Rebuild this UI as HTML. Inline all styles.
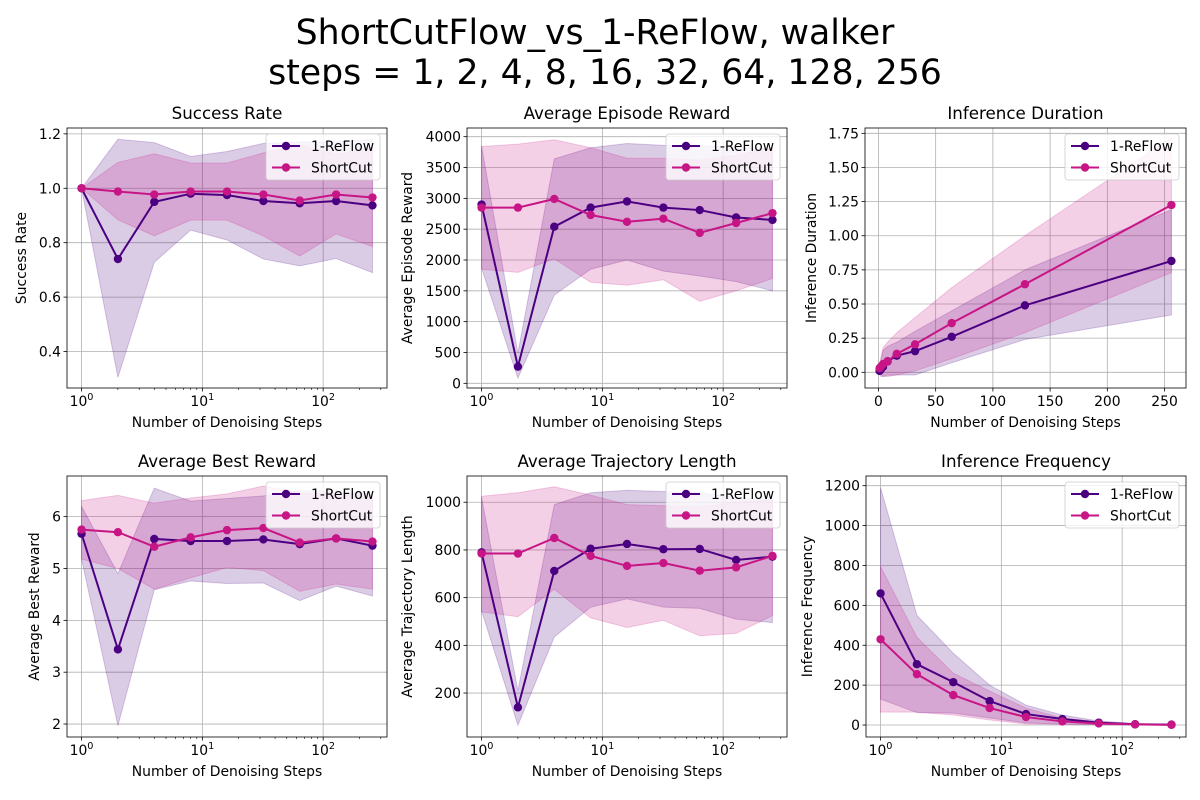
<!DOCTYPE html>
<html><head><meta charset="utf-8"><style>
body{margin:0;background:#fff;}
svg{display:block;font-family:"DejaVu Sans","Liberation Sans",sans-serif;}
</style></head><body>
<svg id="fig" width="1200" height="800" viewBox="0 0 1200 800" xmlns="http://www.w3.org/2000/svg">
<rect width="1200" height="800" fill="#fff"/>
<text x="595" y="44" font-size="34.7" text-anchor="middle" fill="#000">ShortCutFlow_vs_1-ReFlow, walker</text>
<text x="605" y="84" font-size="34.7" text-anchor="middle" fill="#000">steps = 1, 2, 4, 8, 16, 32, 64, 128, 256</text>
</svg>
<script>
const steps = [1,2,4,8,16,32,64,128,256];
const seriesNames = ["1-ReFlow","ShortCut"];

const srReMean = [1.0,0.74,0.95,0.98,0.975,0.953,0.945,0.953,0.937];
const srReHi = [1.0,1.18,1.168,1.117,1.135,1.165,1.17,1.17,1.18];
const srReLo = [1.0,0.305,0.728,0.846,0.81,0.74,0.715,0.742,0.69];
const srScMean = [1.0,0.988,0.977,0.988,0.988,0.977,0.955,0.977,0.966];
const srScHi = [1.0,1.095,1.127,1.093,1.093,1.13,1.16,1.125,1.15];
const srScLo = [1.0,0.884,0.825,0.883,0.883,0.825,0.751,0.832,0.786];

const erReMean = [2900,270,2540,2850,2950,2850,2810,2690,2650];
const erReHi = [3850,490,3640,3820,3890,3860,3850,3830,3800];
const erReLo = [1870,85,1430,1850,2000,1820,1740,1650,1500];
const erScMean = [2850,2850,2990,2730,2620,2670,2440,2600,2760];
const erScHi = [3840,3880,3950,3820,3650,3650,3620,3700,3820];
const erScLo = [1850,1800,2020,1640,1590,1680,1330,1500,1700];

const idReMean = [0.01,0.02,0.04,0.08,0.122,0.155,0.26,0.49,0.815];
const idReHi = [0.03,0.08,0.16,0.19,0.22,0.3,0.45,0.75,1.19];
const idReLo = [-0.01,-0.03,-0.03,-0.03,-0.02,-0.02,0.07,0.24,0.42];
const idScMean = [0.03,0.04,0.06,0.08,0.135,0.205,0.36,0.645,1.225];
const idScHi = [0.05,0.1,0.18,0.22,0.29,0.4,0.62,1.0,1.72];
const idScLo = [0.01,-0.01,-0.03,-0.02,-0.02,0.01,0.1,0.29,0.73];

const brReMean = [5.67,3.44,5.57,5.53,5.53,5.56,5.47,5.58,5.44];
const brReHi = [6.2,4.9,6.55,6.3,6.35,6.4,6.5,6.5,6.4];
const brReLo = [5.18,1.97,4.59,4.76,4.71,4.72,4.38,4.66,4.47];
const brScMean = [5.75,5.70,5.42,5.60,5.74,5.78,5.50,5.58,5.52];
const brScHi = [6.31,6.41,6.26,6.36,6.44,6.59,6.45,6.45,6.45];
const brScLo = [5.18,5.0,4.6,4.82,5.02,4.96,4.56,4.7,4.6];

const tlReMean = [790,140,712,805,825,803,804,758,772];
const tlReHi = [1020,210,990,1040,1050,1045,1040,1020,1010];
const tlReLo = [545,65,435,560,595,560,555,510,495];
const tlScMean = [785,785,850,775,733,745,713,727,775];
const tlScHi = [1025,1040,1065,1030,990,985,980,1000,1010];
const tlScLo = [540,520,635,515,475,505,440,450,525];

const ifReMean = [660,305,215,120,55,30,12,4,2];
const ifReHi = [1190,550,360,200,100,50,20,8,4];
const ifReLo = [130,62,60,35,10,5,2,1,0];
const ifScMean = [430,255,150,85,40,18,8,3,1];
const ifScHi = [795,440,260,170,85,35,15,5,2];
const ifScLo = [65,65,50,25,5,3,1,0,0];

const srTicks = [0.4,0.6,0.8,1.0,1.2];
const erTicks = [0,500,1000,1500,2000,2500,3000,3500,4000];
const idTicks = [0,0.25,0.5,0.75,1.0,1.25,1.5,1.75];
const idXTicks = [0,50,100,150,200,250];
const brTicks = [2,3,4,5,6];
const tlTicks = [200,400,600,800,1000];
const ifTicks = [0,200,400,600,800,1000,1200];

const NS="http://www.w3.org/2000/svg";
const svg=document.getElementById('fig');
const COLORS=["#4B0082","#C71585"];
function mk(tag,attrs,parent){const e=document.createElementNS(NS,tag);for(const k in attrs)e.setAttribute(k,attrs[k]);(parent||svg).appendChild(e);return e;}

const panels=[
 {id:"success-rate",title:"Success Rate",ylabel:"Success Rate",box:[67,128,387,388],xlog:true,xlim:[-0.1204,2.5285],ylim:[0.266,1.2215],yt:srTicks,yfmt:v=>v.toFixed(1),ylx:46,
  data:[[srReMean,srReLo,srReHi],[srScMean,srScLo,srScHi]]},
 {id:"episode-reward",title:"Average Episode Reward",ylabel:"Average Episode Reward",box:[467,128,787,388],xlog:true,xlim:[-0.1204,2.5285],ylim:[-76,4141],yt:erTicks,yfmt:v=>String(v),ylx:60,
  data:[[erReMean,erReLo,erReHi],[erScMean,erScLo,erScHi]]},
 {id:"inference-duration",title:"Inference Duration",ylabel:"Inference Duration",box:[865,128,1186,388],xlog:false,xlim:[-11.75,268.75],ylim:[-0.115,1.789],yt:idTicks,yfmt:v=>v.toFixed(2),ylx:54,xt:idXTicks,
  data:[[idReMean,idReLo,idReHi],[idScMean,idScLo,idScHi]]},
 {id:"best-reward",title:"Average Best Reward",ylabel:"Average Best Reward",box:[67,476,387,737],xlog:true,xlim:[-0.1204,2.5285],ylim:[1.75,6.784],yt:brTicks,yfmt:v=>String(v),ylx:33,
  data:[[brReMean,brReLo,brReHi],[brScMean,brScLo,brScHi]]},
 {id:"trajectory-length",title:"Average Trajectory Length",ylabel:"Average Trajectory Length",box:[467,476,787,737],xlog:true,xlim:[-0.1204,2.5285],ylim:[15.7,1110],yt:tlTicks,yfmt:v=>String(v),ylx:60,
  data:[[tlReMean,tlReLo,tlReHi],[tlScMean,tlScLo,tlScHi]]},
 {id:"inference-frequency",title:"Inference Frequency",ylabel:"Inference Frequency",box:[866,476,1186,737],xlog:true,xlim:[-0.1204,2.5285],ylim:[-60,1248.6],yt:ifTicks,yfmt:v=>String(v),ylx:59,
  data:[[ifReMean,ifReLo,ifReHi],[ifScMean,ifScLo,ifScHi]]}
];

panels.forEach(p=>{
 const [L,T,R,B]=p.box;
 const g=mk('g',{});
 
 
 const sx=v=>{const t=p.xlog?Math.log10(v):v;return L+(t-p.xlim[0])/(p.xlim[1]-p.xlim[0])*(R-L);};
 const sy=v=>B-(v-p.ylim[0])/(p.ylim[1]-p.ylim[0])*(B-T);
 let majors=[];
 if(p.xlog){majors=[1,10,100];
  for(let d=1;d<=100;d*=10)for(let m=2;m<=9;m++){const v=m*d;const x=sx(v);if(x>L&&x<R){const t=mk('line',{x1:x,x2:x,y1:B,y2:B+2,stroke:'#000','stroke-width':0.6},g);}}
 } else majors=p.xt;
 majors.forEach((v,i)=>{const x=sx(v);
  const gl=mk('line',{x1:x,x2:x,y1:T,y2:B,stroke:'#b0b0b0','stroke-width':0.8},g);
  mk('line',{x1:x,x2:x,y1:B,y2:B+3.5,stroke:'#000','stroke-width':0.8},g);
  const tx=mk('text',{x:x,y:B+18,'font-size':13.9,'text-anchor':'middle',fill:'#000'},g);
  
  if(p.xlog){tx.textContent='10';const s=mk('tspan',{dy:-6,'font-size':9.7},tx);s.textContent=String(Math.round(Math.log10(v)));}
  else tx.textContent=String(v);
 });
 p.yt.forEach(v=>{const y=sy(v);
  const gl=mk('line',{x1:L,x2:R,y1:y,y2:y,stroke:'#b0b0b0','stroke-width':0.8},g);
  mk('line',{x1:L-3.5,x2:L,y1:y,y2:y,stroke:'#000','stroke-width':0.8},g);
  const tx=mk('text',{x:L-6,y:y+5,'font-size':13.9,'text-anchor':'end',fill:'#000'},g);
  tx.textContent=p.yfmt(v);
 });
 const cid='clip-'+p.id;const cp=mk('clipPath',{id:cid},g);mk('rect',{x:L,y:T,width:R-L,height:B-T},cp);
 const plot=mk('g',{'clip-path':'url(#'+cid+')'},g);
 p.data.forEach((d,si)=>{
  const [mean,lo,hi]=d;
  let pts=steps.map((s,i)=>sx(s).toFixed(2)+','+sy(hi[i]).toFixed(2));
  for(let i=steps.length-1;i>=0;i--)pts.push(sx(steps[i]).toFixed(2)+','+sy(lo[i]).toFixed(2));
  const band=mk('polygon',{points:pts.join(' '),fill:COLORS[si],'fill-opacity':0.2,stroke:COLORS[si],'stroke-opacity':0.2,'stroke-width':1},plot);
  
 });
 p.data.forEach((d,si)=>{
  const mean=d[0];
  const ln=mk('polyline',{points:steps.map((s,i)=>sx(s).toFixed(2)+','+sy(mean[i]).toFixed(2)).join(' '),fill:'none',stroke:COLORS[si],'stroke-width':2},plot);
  
  steps.forEach((s,i)=>{const c=mk('circle',{cx:sx(s),cy:sy(mean[i]),r:4.2,fill:COLORS[si]},plot);
   });
 });
 const fr=mk('rect',{x:L,y:T,width:R-L,height:B-T,fill:'none',stroke:'#000','stroke-width':0.8},g);
 
 const ti=mk('text',{x:(L+R)/2,y:T-9,'font-size':16.7,'text-anchor':'middle',fill:'#000'},g);
 ti.textContent=p.title;
 const xl=mk('text',{x:(L+R)/2,y:B+39,'font-size':13.9,'text-anchor':'middle',fill:'#000'},g);
 xl.textContent='Number of Denoising Steps';
 const yx=L-p.ylx+5,yc=(T+B)/2;
 const yl=mk('text',{x:yx,y:yc,'font-size':13.9,'text-anchor':'middle',fill:'#000',transform:`rotate(-90 ${yx} ${yc})`},g);
 yl.textContent=p.ylabel;
 const lx=R-121,ly=T+6;
 const lg=mk('g',{},g);
 mk('rect',{x:lx,y:ly,width:114,height:46,rx:3,fill:'#fff','fill-opacity':0.8,stroke:'#cccccc','stroke-width':0.8},lg);
 seriesNames.forEach((n,si)=>{const yy=ly+12+si*21.5;
  const e=mk('g',{},lg);
  mk('line',{x1:lx+6,x2:lx+34,y1:yy,y2:yy,stroke:COLORS[si],'stroke-width':2},e);
  mk('circle',{cx:lx+20,cy:yy,r:4.2,fill:COLORS[si]},e);
  const t=mk('text',{x:lx+45,y:yy+5,'font-size':13.9,fill:'#000'},e);t.textContent=n;
 });
});
</script>
</body></html>
